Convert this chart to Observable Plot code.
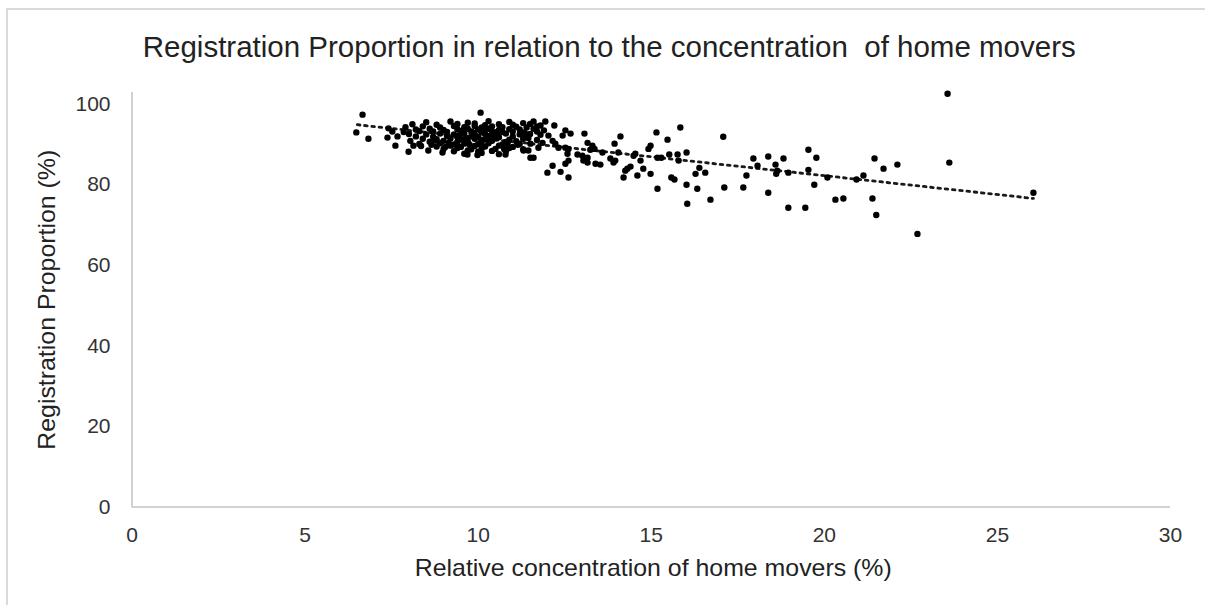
<!DOCTYPE html>
<html>
<head>
<meta charset="utf-8">
<script src="https://cdn.jsdelivr.net/npm/d3@7"></script>
<script src="https://cdn.jsdelivr.net/npm/@observablehq/plot@0.6"></script>
<style>
html, body { margin: 0; padding: 0; background: #fff; overflow: hidden; }
#frame { position: absolute; left: 6px; top: 8px; width: 1210px; height: 610px; border-left: 2px solid #dadada; border-top: 2px solid #dadada; }
#chart { position: absolute; left: 0; top: 0; }
</style>
</head>
<body>
<div id="frame"></div>
<div id="chart"></div>
<script>
const title = "Registration Proportion in relation to the concentration  of home movers";
const xLabel = "Relative concentration of home movers (%)";
const yLabel = "Registration Proportion (%)";
const xTicks = [0, 5, 10, 15, 20, 25, 30];
const yTicks = [0, 20, 40, 60, 80, 100];

// [relative concentration of home movers (%), registration proportion (%)]
const sparsePoints = [
  [6.66,97.4],[6.48,93.0],[6.83,91.4],[7.41,94.0],[7.52,93.2],[7.38,91.7],[7.67,92.0],[7.61,89.7],
  [8.04,90.9],[8.13,89.7],[7.99,88.2],[8.56,88.5],[10.07,97.9],
  [11.94,95.7],[12.2,94.7],[12.52,93.5],[12.67,92.7],[12.44,92.2],[13.07,92.7],[13.16,90.4],[13.3,89.7],
  [13.36,88.9],[13.24,88.7],[13.59,88.0],[12.03,92.2],[12.15,90.9],[12.23,90.2],[12.32,89.2],[12.52,89.2],
  [12.61,88.9],[11.51,90.2],[11.45,88.5],[11.51,86.7],[11.74,89.2],[11.86,90.4],[12.58,87.7],[12.61,86.0],
  [12.52,85.2],[12.87,87.5],[13.01,87.2],[13.16,86.7],[13.04,86.0],[13.16,85.5],[12.15,84.7],[12.38,83.2],
  [12.0,83.0],[12.61,81.8],
  [15.84,94.2],[15.15,93.0],[14.11,92.0],[15.47,91.2],[13.94,90.2],[14.98,89.7],[14.92,88.9],[14.05,88.0],
  [14.54,87.7],[14.49,87.2],[15.52,87.5],[15.76,87.5],[16.02,88.0],[15.18,86.7],[15.29,86.7],[13.82,86.5],
  [13.96,86.0],[13.91,85.5],[14.69,86.0],[15.79,86.0],[13.39,85.2],[13.53,85.0],[14.4,84.5],[14.31,84.0],
  [14.25,83.5],[14.77,84.0],[16.39,84.2],[16.56,83.0],[16.28,82.7],[14.98,82.7],[14.6,82.3],[14.2,81.8],
  [15.58,81.8],[15.67,81.3],[16.02,80.0],[15.18,79.0],[16.33,79.0],[16.04,75.3],[16.71,76.3],
  [17.08,91.9],[19.54,88.7],[19.77,86.7],[17.95,86.5],[18.07,84.7],[18.38,87.0],[18.82,86.5],[18.59,85.0],
  [21.45,86.5],[18.64,83.5],[18.61,82.7],[18.96,83.0],[19.54,83.7],[17.75,82.3],[20.09,81.8],[20.93,81.3],
  [21.13,82.3],[19.71,80.0],[17.11,79.3],[17.66,79.3],[18.38,78.0],[20.32,76.3],[20.55,76.6],[21.39,76.6],
  [18.96,74.3],[19.45,74.3],[21.5,72.5],
  [23.56,102.6],[21.71,84.0],[22.11,85.0],[23.61,85.5],[22.69,67.8],[26.04,78.0]
];

const densePoints = [
  [8.5,95.5],[9.2,95.7],[9.7,95.4],[10.3,95.8],[10.9,95.6],[11.3,95.3],[11.6,95.7],
  [8.1,95.0],[8.8,94.9],[9.4,95.1],[9.9,95.2],[10.2,94.8],[10.6,95.0],[11.0,94.9],[11.5,95.1],[11.8,94.7],
  [7.9,94.3],[8.4,94.5],[8.9,94.2],[9.3,94.6],[9.6,94.3],[9.9,94.6],[10.1,94.2],[10.4,94.5],[10.7,94.3],[11.1,94.4],[11.4,94.2],[11.7,94.5],
  [8.2,93.7],[8.6,93.9],[9.0,93.6],[9.4,93.8],[9.7,93.9],[10.0,93.7],[10.3,93.9],[10.6,93.6],[10.9,93.8],[11.2,93.7],[11.6,93.9],[11.9,93.5],
  [7.85,93.1],[8.3,93.3],[8.7,93.2],[9.1,93.1],[9.5,93.3],[9.8,93.2],[10.1,93.0],[10.4,93.3],[10.7,93.1],[11.0,93.2],[11.3,93.0],[11.7,93.2],
  [8.0,92.6],[8.5,92.5],[8.9,92.7],[9.3,92.5],[9.6,92.7],[9.9,92.5],[10.2,92.6],[10.5,92.4],[10.8,92.7],[11.2,92.5],[11.5,92.6],[11.8,92.4],
  [8.2,92.0],[8.7,91.9],[9.1,92.1],[9.4,91.8],[9.8,92.0],[10.0,91.9],[10.3,92.1],[10.6,91.8],[11.0,92.0],[11.4,91.9],
  [8.4,91.4],[8.8,91.3],[9.2,91.5],[9.5,91.2],[9.9,91.4],[10.2,91.3],[10.5,91.5],[10.9,91.2],[11.3,91.4],[11.7,91.1],
  [8.6,90.7],[9.0,90.9],[9.4,90.6],[9.7,90.8],[10.1,90.7],[10.4,90.9],[10.8,90.6],[11.1,90.8],
  [8.3,90.1],[8.9,90.3],[9.3,90.0],[9.6,90.2],[10.0,90.1],[10.3,90.3],[10.7,90.0],[11.2,90.2],
  [8.8,89.5],[9.2,89.7],[9.5,89.4],[9.9,89.6],[10.2,89.5],[10.6,89.7],[11.0,89.4],
  [9.0,88.9],[9.4,89.1],[9.8,88.8],[10.1,89.0],[10.5,88.9],[10.9,89.1],[11.3,88.8],
  [9.3,88.3],[9.7,88.5],[10.0,88.2],[10.4,88.4],[10.8,88.3],
  [9.6,87.7],[10.1,87.9],[10.6,87.6],
  [8.97,88.0],[9.69,87.5],[9.98,87.4],[10.79,87.5],[11.6,86.7],[11.31,88.5],
  [9.55,93.5],[9.85,92.9],[10.15,93.5],[10.45,92.2],[9.65,91.6],[10.05,90.4],[9.75,90.0],[10.35,91.0],[9.45,92.3],[10.55,93.1],
  [8.35,89.6],[8.65,89.9],[8.75,91.0],[9.15,90.4],[10.85,90.1],[11.15,89.9],[11.45,91.6],[11.35,92.8],[10.75,88.9],[9.05,89.4]
];

// linear trendline end points
const trendX = [6.51, 26.04];
const trendY = [94.9, 76.6];

const points = sparsePoints.concat(densePoints).map(([x, y]) => ({x, y}));
const trend = trendX.map((x, i) => ({x, y: trendY[i]}));

const font = "'Liberation Sans', Arial, sans-serif";
const textColor = "#333";

const chart = Plot.plot({
  width: 1205,
  height: 605,
  marginLeft: 131.5,
  marginRight: 35,
  marginTop: 92,
  marginBottom: 98.5,
  style: {fontFamily: font, color: textColor, background: "transparent", overflow: "visible"},
  x: {domain: [0, 30], label: null},
  y: {domain: [0, 102.9], label: null},
  marks: [
    Plot.ruleY([0], {stroke: "#c3c3c3", strokeWidth: 1.5}),
    Plot.ruleX([0], {stroke: "#c3c3c3", strokeWidth: 1.5}),
    Plot.axisX({ticks: xTicks, tickSize: 0, tickPadding: 20, fontSize: 21, label: null, fill: textColor}),
    Plot.axisY({ticks: yTicks, tickSize: 0, tickPadding: 21.5, fontSize: 21, label: null, fill: textColor}),
    Plot.line(trend, {x: "x", y: "y", stroke: "#1a1a1a", strokeWidth: 2.8, strokeDasharray: "2.6,4.7"}),
    Plot.dot(points, {x: "x", y: "y", r: 3.2, fill: "#000", stroke: "none"}),
    Plot.text([title], {frameAnchor: "top", dx: -42, dy: -45, fontSize: 30, fill: "#222", textAnchor: "middle", lineAnchor: "middle"}),
    Plot.text([xLabel], {frameAnchor: "bottom", dx: 2, dy: 61.5, fontSize: 24, fill: "#222", textAnchor: "middle", lineAnchor: "middle"}),
    Plot.text([yLabel], {frameAnchor: "left", dx: -84.5, dy: 0, rotate: -90, fontSize: 24, fill: "#222", textAnchor: "middle", lineAnchor: "middle"})
  ]
});

document.getElementById("chart").appendChild(chart);

// match the text widths of the reference
const widths = new Map([[title, 933], [xLabel, 477], [yLabel, 300]]);
d3.select(chart).selectAll("text").each(function() {
  const t = this.textContent;
  if (widths.has(t)) {
    d3.select(this).attr("textLength", widths.get(t)).attr("lengthAdjust", "spacingAndGlyphs").style("white-space", "pre");
  }
});
</script>
</body>
</html>
